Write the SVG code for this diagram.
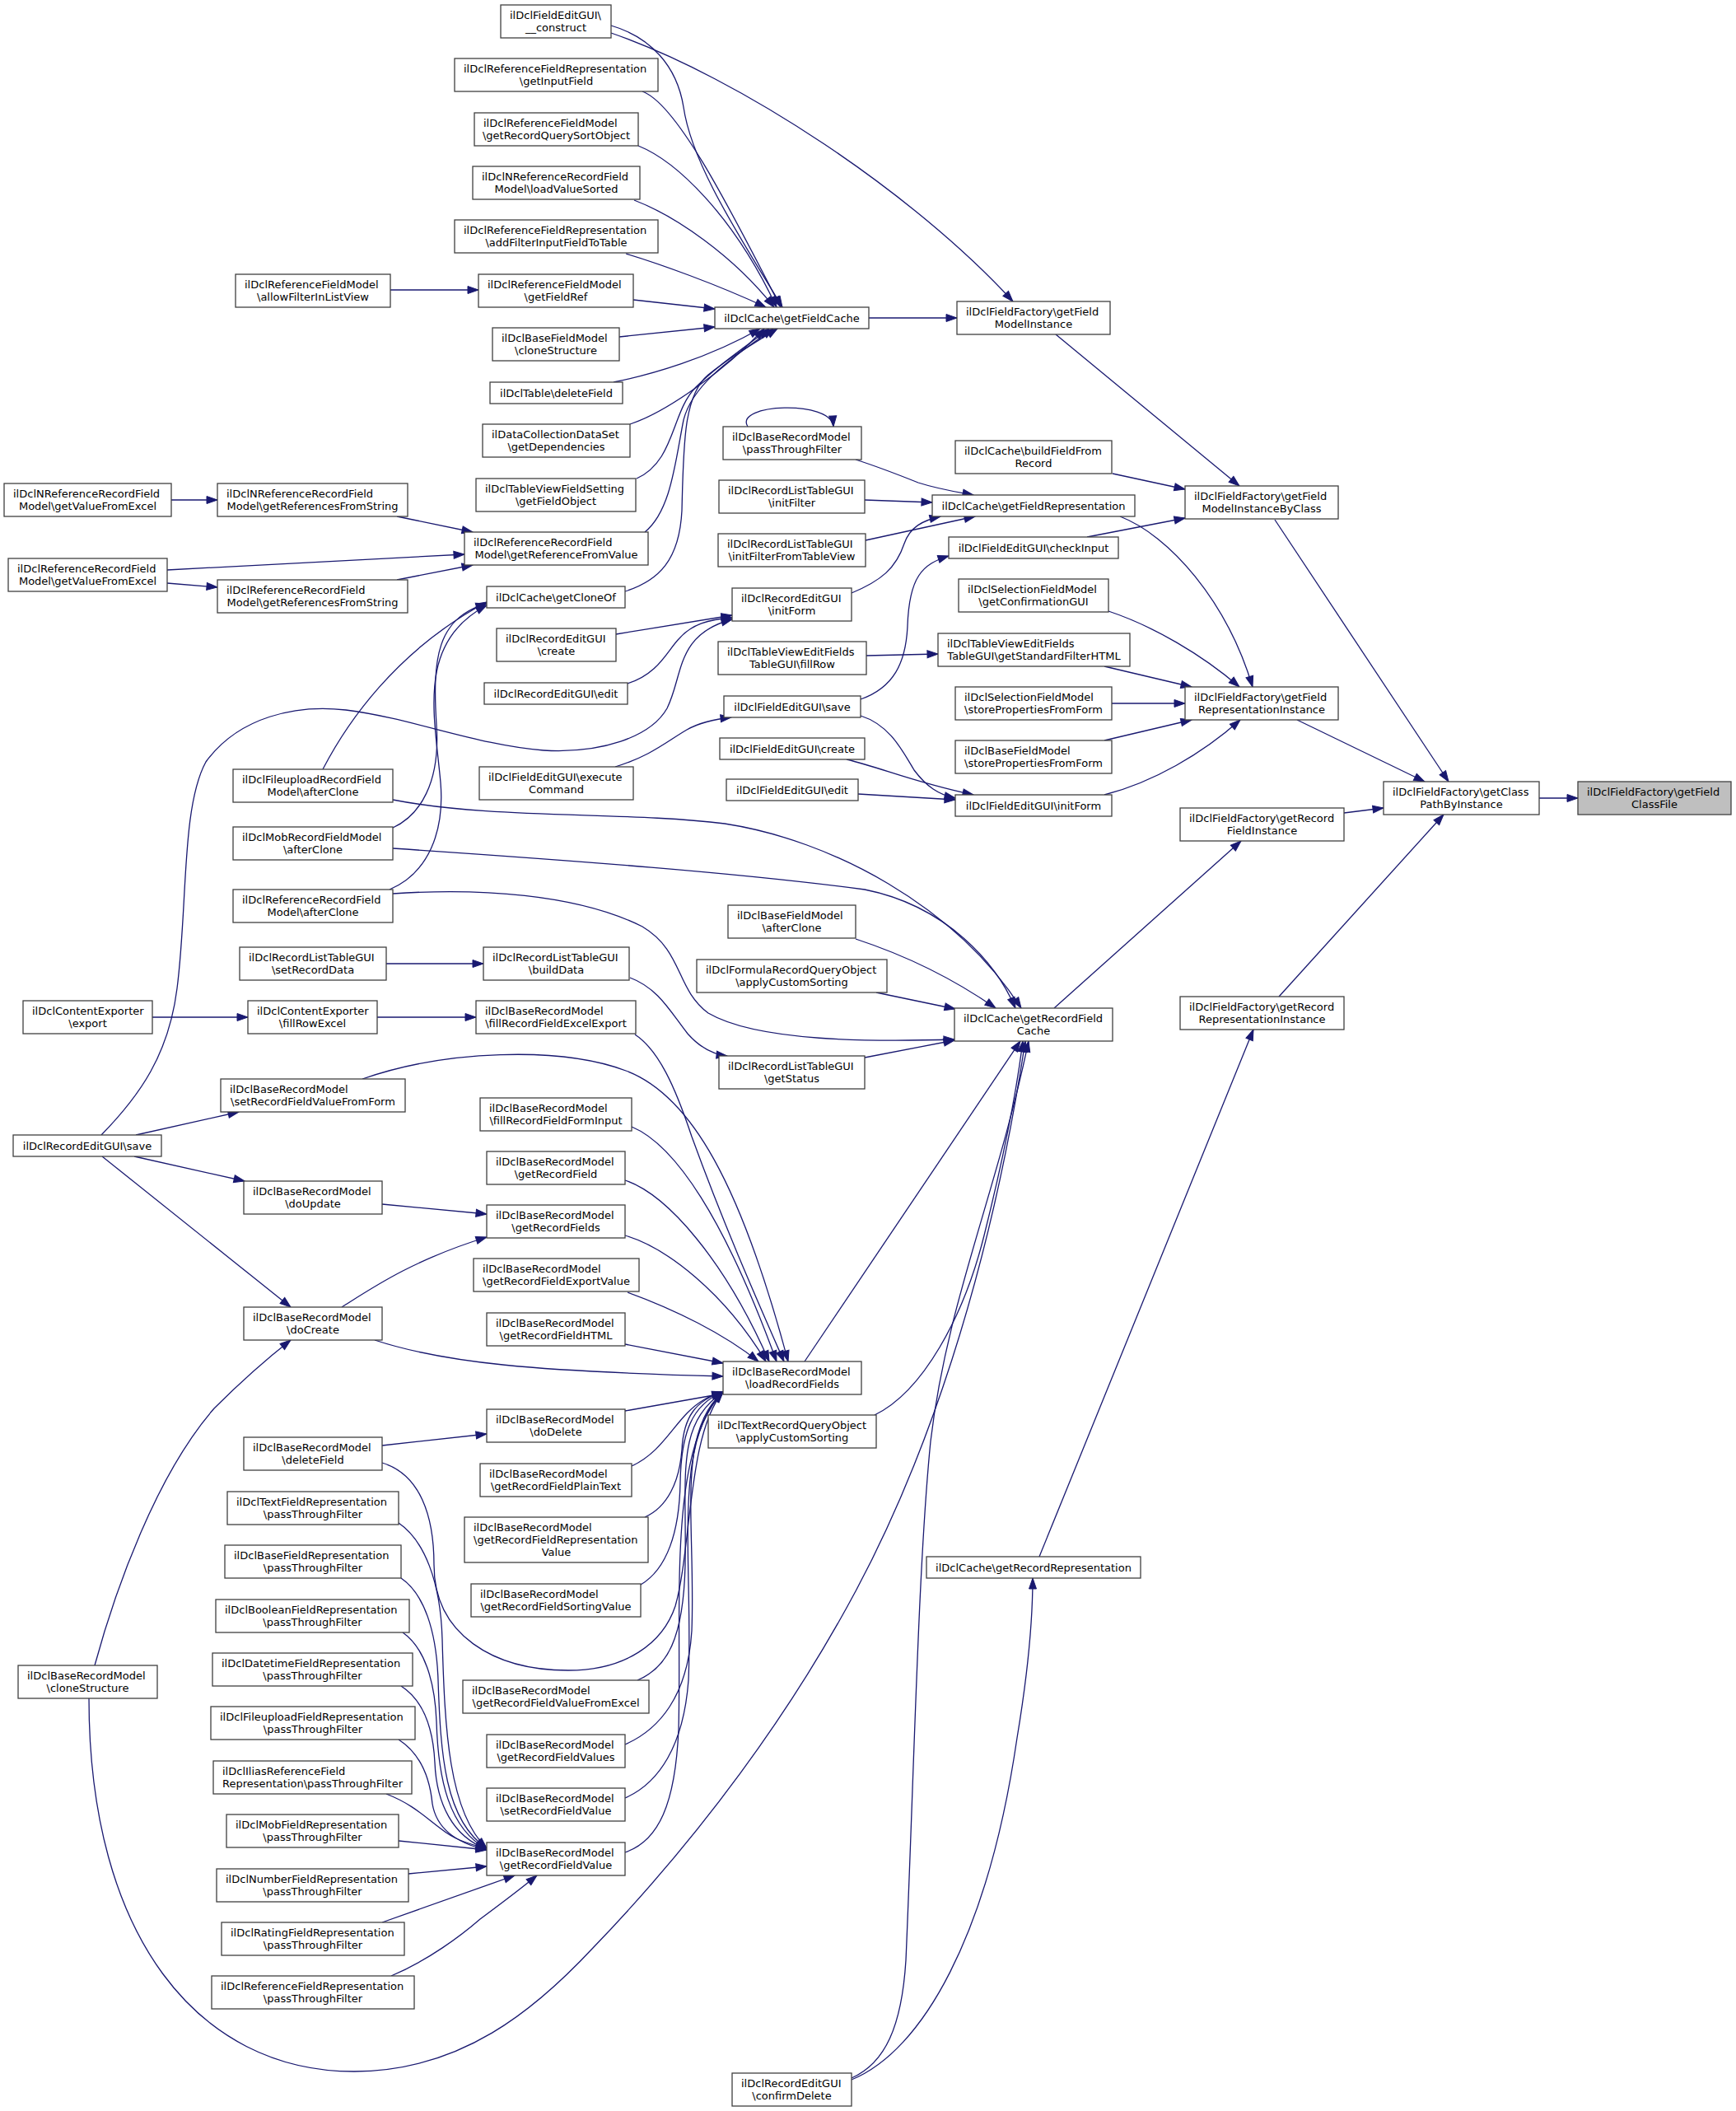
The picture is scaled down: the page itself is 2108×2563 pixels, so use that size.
<svg xmlns="http://www.w3.org/2000/svg" width="2108" height="2563" viewBox="0 0 2108 2563">
<style>
.n rect{fill:#fff;stroke:#404040;stroke-width:1.3}
.n.g rect{fill:#bfbfbf}
text{font-family:"DejaVu Sans","Liberation Sans",sans-serif;font-size:13px;fill:#000}
.l{text-anchor:start}
.c{text-anchor:middle}
#edges path{fill:none;stroke:#191970;stroke-width:1.3;marker-end:url(#a)}
</style>
<defs>
<marker id="a" markerUnits="userSpaceOnUse" markerWidth="14" markerHeight="10" refX="13" refY="5" orient="auto" overflow="visible">
<path d="M0,0.5 L13,5 L0,9.5 z" fill="#191970" stroke="#191970" stroke-width="1"/>
</marker>
</defs>
<rect x="0" y="0" width="2108" height="2563" fill="#fff"/>
<g id="edges">
<path d="M1869,969 L1916,969"/>
<path d="M1548,631 L1759,949"/>
<path d="M1575,874 L1730,949"/>
<path d="M1632,987 L1680,981"/>
<path d="M1553,1210 L1753,989"/>
<path d="M1282,406 L1505,590"/>
<path d="M1351,575 L1439,594"/>
<path d="M1320,652 L1439,629"/>
<path d="M1360,627 C1420,650 1490,730 1521,834"/>
<path d="M1346,742 C1400,760 1460,795 1505,834"/>
<path d="M1341,809 L1447,834"/>
<path d="M1350,854 L1439,854"/>
<path d="M1341,899 L1447,874"/>
<path d="M1341,965 C1400,950 1460,915 1506,874"/>
<path d="M1280,1224 L1507,1021"/>
<path d="M1262,1890 L1522,1250"/>
<path d="M1055,386 L1162,386"/>
<path d="M742,40 C900,95 1110,235 1230,366"/>
<path d="M742,31 C790,45 822,80 830,130 C840,200 900,290 950,373"/>
<path d="M780,111 C820,125 880,240 948,373"/>
<path d="M775,177 C820,195 890,260 943,373"/>
<path d="M770,243 C820,262 890,310 940,373"/>
<path d="M760,308 C800,320 870,345 930,373"/>
<path d="M769,364 L868,375"/>
<path d="M752,409 L868,397"/>
<path d="M745,464 C790,455 860,435 923,399"/>
<path d="M765,515 C810,500 880,450 928,399"/>
<path d="M773,581 C820,560 815,500 845,470 C870,445 900,425 934,399"/>
<path d="M783,646 C815,620 820,560 830,510 C840,470 880,440 939,399"/>
<path d="M759,718 C800,705 825,680 828,620 C830,540 830,480 860,455 C885,435 910,420 944,399"/>
<path d="M474,352 L581,352"/>
<path d="M482,627 L574,646"/>
<path d="M203,692 L564,673"/>
<path d="M482,704 L574,686"/>
<path d="M208,607 L264,607"/>
<path d="M203,708 L264,713"/>
<path d="M392,934 C420,880 480,790 591,731"/>
<path d="M477,1005 C510,990 535,950 530,880 C525,800 530,750 591,733"/>
<path d="M473,1080 C520,1060 540,1010 535,950 C528,870 505,780 591,735"/>
<path d="M748,770 L889,747"/>
<path d="M762,830 C800,818 810,790 825,775 C840,758 860,752 889,750"/>
<path d="M123,1378 C170,1330 205,1280 215,1200 C228,1100 220,980 250,925 C290,870 360,855 420,862 C500,872 580,905 660,911 C730,915 790,895 810,860 C830,820 820,770 889,752"/>
<path d="M1051,656 L1184,627"/>
<path d="M1034,720 C1070,705 1088,690 1098,660 C1105,640 1120,632 1142,627"/>
<path d="M1050,607 L1132,610"/>
<path d="M1039,558 C1070,568 1100,580 1115,586 C1140,594 1160,597 1182,601"/>
<path d="M908,518 C890,490 1010,485 1012,518"/>
<path d="M1045,849 C1085,835 1100,805 1102,760 C1104,700 1120,685 1152,675"/>
<path d="M1052,796 L1139,794"/>
<path d="M1045,869 C1080,880 1095,910 1110,935 C1125,955 1140,965 1160,969"/>
<path d="M1028,922 C1070,932 1110,950 1182,965"/>
<path d="M1042,964 L1160,971"/>
<path d="M747,931 C790,918 810,900 834,886 C850,877 868,873 888,871"/>
<path d="M477,971 C600,995 760,985 880,1000 C1010,1020 1160,1100 1240,1224"/>
<path d="M477,1030 C700,1045 900,1060 1050,1080 C1150,1100 1210,1170 1233,1224"/>
<path d="M477,1085 C580,1078 700,1085 780,1125 C830,1155 820,1200 860,1230 C920,1265 1060,1265 1159,1262"/>
<path d="M1039,1140 C1100,1160 1160,1190 1209,1224"/>
<path d="M1064,1205 L1160,1225"/>
<path d="M1050,1284 L1159,1263"/>
<path d="M977,1653 L1239,1264"/>
<path d="M1062,1718 C1120,1690 1170,1600 1195,1500 C1220,1400 1235,1320 1242,1264"/>
<path d="M1034,2523 C1075,2505 1095,2460 1100,2380 C1110,2150 1115,1900 1130,1750 C1150,1580 1210,1450 1249,1264"/>
<path d="M1034,2525 C1120,2490 1200,2350 1235,2110 C1250,2020 1254,1960 1254,1916"/>
<path d="M108,2062 C108,2350 240,2515 430,2515 C560,2515 650,2440 720,2365 C850,2230 960,2080 1040,1930 C1120,1780 1200,1560 1245,1264"/>
<path d="M469,1170 L587,1170"/>
<path d="M765,1187 C800,1200 815,1230 835,1255 C850,1272 865,1280 883,1282"/>
<path d="M185,1235 L301,1235"/>
<path d="M458,1235 L578,1235"/>
<path d="M771,1256 C800,1275 820,1320 840,1380 C880,1490 920,1580 952,1653"/>
<path d="M440,1310 C540,1275 680,1270 760,1300 C840,1330 900,1440 957,1653"/>
<path d="M767,1368 C820,1390 880,1480 943,1653"/>
<path d="M759,1433 C810,1450 880,1530 934,1653"/>
<path d="M759,1500 C810,1515 880,1570 930,1653"/>
<path d="M762,1569 C820,1590 880,1620 921,1653"/>
<path d="M759,1632 L878,1655"/>
<path d="M455,1627 C540,1655 650,1665 878,1671"/>
<path d="M759,1713 L878,1692"/>
<path d="M767,1780 C800,1765 815,1735 835,1715 C848,1702 860,1695 878,1690"/>
<path d="M783,1842 C810,1830 825,1800 828,1760 C830,1720 845,1700 878,1690"/>
<path d="M778,1924 C810,1905 825,1860 826,1800 C827,1740 840,1705 878,1690"/>
<path d="M774,2040 C810,2025 830,1990 832,1900 C834,1790 820,1730 878,1690"/>
<path d="M759,2118 C800,2100 835,2060 840,1980 C845,1850 820,1740 878,1690"/>
<path d="M759,2183 C800,2165 830,2120 836,2040 C842,1900 815,1750 878,1690"/>
<path d="M759,2249 C800,2235 820,2190 824,2100 C828,1950 810,1760 878,1690"/>
<path d="M464,1776 C510,1790 527,1840 527,1900 C527,1985 600,2028 690,2028 C760,2028 805,1995 820,1950 C840,1880 835,1740 878,1690"/>
<path d="M484,1849 C515,1870 535,1920 537,1990 C540,2100 545,2200 591,2244"/>
<path d="M487,1916 C515,1935 530,1980 532,2040 C535,2130 540,2210 591,2244"/>
<path d="M489,1982 C515,2000 528,2040 530,2090 C532,2160 545,2220 591,2245"/>
<path d="M487,2047 C515,2065 526,2100 528,2140 C530,2190 550,2230 591,2245"/>
<path d="M484,2112 C512,2130 522,2160 525,2190 C530,2220 555,2238 591,2246"/>
<path d="M469,2178 C500,2190 515,2205 535,2220 C550,2232 565,2238 591,2244"/>
<path d="M484,2235 L591,2246"/>
<path d="M496,2275 L591,2266"/>
<path d="M464,2334 C510,2318 560,2300 625,2277"/>
<path d="M475,2399 C520,2380 560,2350 583,2330 C610,2310 630,2295 652,2277"/>
<path d="M464,1462 L591,1474"/>
<path d="M415,1587 C450,1565 500,1530 591,1502"/>
<path d="M165,1378 L290,1350"/>
<path d="M163,1404 L297,1434"/>
<path d="M124,1404 L353,1587"/>
<path d="M115,2022 C140,1930 190,1790 260,1710 C300,1670 330,1645 353,1627"/>
<path d="M464,1755 L591,1741"/>
</g>
<g id="n_construct" class="n"><rect x="608" y="6" width="134" height="40"/><text x="619" y="23" class="l">ilDclFieldEditGUI\</text><text x="675" y="38" class="c">__construct</text></g>
<g id="n_getInputField" class="n"><rect x="552" y="71" width="247" height="40"/><text x="563" y="88" class="l">ilDclReferenceFieldRepresentation</text><text x="675.5" y="103" class="c">\getInputField</text></g>
<g id="n_getRecordQuerySortObject" class="n"><rect x="576" y="137" width="199" height="40"/><text x="587" y="154" class="l">ilDclReferenceFieldModel</text><text x="675.5" y="169" class="c">\getRecordQuerySortObject</text></g>
<g id="n_loadValueSorted" class="n"><rect x="574" y="202" width="203" height="40"/><text x="585" y="219" class="l">ilDclNReferenceRecordField</text><text x="675.5" y="234" class="c">Model\loadValueSorted</text></g>
<g id="n_addFilterInputFieldToTable" class="n"><rect x="552" y="267" width="247" height="40"/><text x="563" y="284" class="l">ilDclReferenceFieldRepresentation</text><text x="675.5" y="299" class="c">\addFilterInputFieldToTable</text></g>
<g id="n_getFieldRef" class="n"><rect x="581" y="333" width="188" height="40"/><text x="592" y="350" class="l">ilDclReferenceFieldModel</text><text x="675" y="365" class="c">\getFieldRef</text></g>
<g id="n_allowFilterInListView" class="n"><rect x="286" y="333" width="188" height="40"/><text x="297" y="350" class="l">ilDclReferenceFieldModel</text><text x="380" y="365" class="c">\allowFilterInListView</text></g>
<g id="n_bfm_cloneStructure" class="n"><rect x="598" y="398" width="154" height="40"/><text x="609" y="415" class="l">ilDclBaseFieldModel</text><text x="675" y="430" class="c">\cloneStructure</text></g>
<g id="n_table_deleteField" class="n"><rect x="595" y="464" width="161" height="26"/><text x="675.5" y="481.5" class="c">ilDclTable\deleteField</text></g>
<g id="n_getDependencies" class="n"><rect x="586" y="515" width="179" height="40"/><text x="597" y="532" class="l">ilDataCollectionDataSet</text><text x="675.5" y="547" class="c">\getDependencies</text></g>
<g id="n_getFieldObject" class="n"><rect x="578" y="581" width="194" height="40"/><text x="589" y="598" class="l">ilDclTableViewFieldSetting</text><text x="675" y="613" class="c">\getFieldObject</text></g>
<g id="n_nref_getValueFromExcel" class="n"><rect x="5" y="587" width="203" height="40"/><text x="16" y="604" class="l">ilDclNReferenceRecordField</text><text x="106.5" y="619" class="c">Model\getValueFromExcel</text></g>
<g id="n_nref_getReferencesFromString" class="n"><rect x="264" y="587" width="231" height="40"/><text x="275" y="604" class="l">ilDclNReferenceRecordField</text><text x="379.5" y="619" class="c">Model\getReferencesFromString</text></g>
<g id="n_getReferenceFromValue" class="n"><rect x="564" y="646" width="223" height="40"/><text x="575" y="663" class="l">ilDclReferenceRecordField</text><text x="675.5" y="678" class="c">Model\getReferenceFromValue</text></g>
<g id="n_ref_getValueFromExcel" class="n"><rect x="10" y="678" width="193" height="40"/><text x="21" y="695" class="l">ilDclReferenceRecordField</text><text x="106.5" y="710" class="c">Model\getValueFromExcel</text></g>
<g id="n_ref_getReferencesFromString" class="n"><rect x="264" y="704" width="231" height="40"/><text x="275" y="721" class="l">ilDclReferenceRecordField</text><text x="379.5" y="736" class="c">Model\getReferencesFromString</text></g>
<g id="n_getCloneOf" class="n"><rect x="591" y="712" width="168" height="26"/><text x="675" y="729.5" class="c">ilDclCache\getCloneOf</text></g>
<g id="n_reg_create" class="n"><rect x="603" y="763" width="145" height="40"/><text x="614" y="780" class="l">ilDclRecordEditGUI</text><text x="675.5" y="795" class="c">\create</text></g>
<g id="n_reg_edit" class="n"><rect x="588" y="829" width="174" height="26"/><text x="675" y="846.5" class="c">ilDclRecordEditGUI\edit</text></g>
<g id="n_executeCommand" class="n"><rect x="582" y="931" width="187" height="40"/><text x="593" y="948" class="l">ilDclFieldEditGUI\execute</text><text x="675.5" y="963" class="c">Command</text></g>
<g id="n_fileupload_afterClone" class="n"><rect x="283" y="934" width="194" height="40"/><text x="294" y="951" class="l">ilDclFileuploadRecordField</text><text x="380" y="966" class="c">Model\afterClone</text></g>
<g id="n_mob_afterClone" class="n"><rect x="283" y="1004" width="194" height="40"/><text x="294" y="1021" class="l">ilDclMobRecordFieldModel</text><text x="380" y="1036" class="c">\afterClone</text></g>
<g id="n_refrec_afterClone" class="n"><rect x="283" y="1080" width="194" height="40"/><text x="294" y="1097" class="l">ilDclReferenceRecordField</text><text x="380" y="1112" class="c">Model\afterClone</text></g>
<g id="n_setRecordData" class="n"><rect x="291" y="1150" width="178" height="40"/><text x="302" y="1167" class="l">ilDclRecordListTableGUI</text><text x="380" y="1182" class="c">\setRecordData</text></g>
<g id="n_buildData" class="n"><rect x="587" y="1150" width="177" height="40"/><text x="598" y="1167" class="l">ilDclRecordListTableGUI</text><text x="675.5" y="1182" class="c">\buildData</text></g>
<g id="n_export" class="n"><rect x="28" y="1215" width="157" height="40"/><text x="39" y="1232" class="l">ilDclContentExporter</text><text x="106.5" y="1247" class="c">\export</text></g>
<g id="n_fillRowExcel" class="n"><rect x="301" y="1215" width="157" height="40"/><text x="312" y="1232" class="l">ilDclContentExporter</text><text x="379.5" y="1247" class="c">\fillRowExcel</text></g>
<g id="n_fillRecordFieldExcelExport" class="n"><rect x="578" y="1215" width="194" height="40"/><text x="589" y="1232" class="l">ilDclBaseRecordModel</text><text x="675" y="1247" class="c">\fillRecordFieldExcelExport</text></g>
<g id="n_passThroughFilter" class="n"><rect x="878" y="518" width="168" height="40"/><text x="889" y="535" class="l">ilDclBaseRecordModel</text><text x="962" y="550" class="c">\passThroughFilter</text></g>
<g id="n_initFilter" class="n"><rect x="873" y="583" width="177" height="40"/><text x="884" y="600" class="l">ilDclRecordListTableGUI</text><text x="961.5" y="615" class="c">\initFilter</text></g>
<g id="n_initFilterFromTableView" class="n"><rect x="872" y="648" width="179" height="40"/><text x="883" y="665" class="l">ilDclRecordListTableGUI</text><text x="961.5" y="680" class="c">\initFilterFromTableView</text></g>
<g id="n_reg_initForm" class="n"><rect x="889" y="714" width="145" height="40"/><text x="900" y="731" class="l">ilDclRecordEditGUI</text><text x="961.5" y="746" class="c">\initForm</text></g>
<g id="n_fillRow" class="n"><rect x="872" y="779" width="180" height="40"/><text x="883" y="796" class="l">ilDclTableViewEditFields</text><text x="962" y="811" class="c">TableGUI\fillRow</text></g>
<g id="n_feg_save" class="n"><rect x="879" y="845" width="166" height="26"/><text x="962" y="862.5" class="c">ilDclFieldEditGUI\save</text></g>
<g id="n_feg_create" class="n"><rect x="874" y="896" width="176" height="26"/><text x="962" y="913.5" class="c">ilDclFieldEditGUI\create</text></g>
<g id="n_feg_edit" class="n"><rect x="882" y="946" width="160" height="26"/><text x="962" y="963.5" class="c">ilDclFieldEditGUI\edit</text></g>
<g id="n_getFieldCache" class="n"><rect x="868" y="373" width="187" height="26"/><text x="961.5" y="390.5" class="c">ilDclCache\getFieldCache</text></g>
<g id="n_getFieldModelInstance" class="n"><rect x="1162" y="366" width="186" height="40"/><text x="1173" y="383" class="l">ilDclFieldFactory\getField</text><text x="1255" y="398" class="c">ModelInstance</text></g>
<g id="n_buildFieldFromRecord" class="n"><rect x="1160" y="535" width="190" height="40"/><text x="1171" y="552" class="l">ilDclCache\buildFieldFrom</text><text x="1255" y="567" class="c">Record</text></g>
<g id="n_getFieldRepresentation" class="n"><rect x="1132" y="601" width="246" height="26"/><text x="1255" y="618.5" class="c">ilDclCache\getFieldRepresentation</text></g>
<g id="n_checkInput" class="n"><rect x="1152" y="652" width="206" height="26"/><text x="1255" y="669.5" class="c">ilDclFieldEditGUI\checkInput</text></g>
<g id="n_getConfirmationGUI" class="n"><rect x="1164" y="703" width="182" height="40"/><text x="1175" y="720" class="l">ilDclSelectionFieldModel</text><text x="1255" y="735" class="c">\getConfirmationGUI</text></g>
<g id="n_getStandardFilterHTML" class="n"><rect x="1139" y="769" width="233" height="40"/><text x="1150" y="786" class="l">ilDclTableViewEditFields</text><text x="1255.5" y="801" class="c">TableGUI\getStandardFilterHTML</text></g>
<g id="n_sel_storeProps" class="n"><rect x="1160" y="834" width="190" height="40"/><text x="1171" y="851" class="l">ilDclSelectionFieldModel</text><text x="1255" y="866" class="c">\storePropertiesFromForm</text></g>
<g id="n_bfm_storeProps" class="n"><rect x="1160" y="899" width="190" height="40"/><text x="1171" y="916" class="l">ilDclBaseFieldModel</text><text x="1255" y="931" class="c">\storePropertiesFromForm</text></g>
<g id="n_feg_initForm" class="n"><rect x="1160" y="965" width="190" height="26"/><text x="1255" y="982.5" class="c">ilDclFieldEditGUI\initForm</text></g>
<g id="n_getFieldModelInstanceByClass" class="n"><rect x="1439" y="590" width="186" height="40"/><text x="1450" y="607" class="l">ilDclFieldFactory\getField</text><text x="1532" y="622" class="c">ModelInstanceByClass</text></g>
<g id="n_getFieldRepresentationInstance" class="n"><rect x="1439" y="834" width="186" height="40"/><text x="1450" y="851" class="l">ilDclFieldFactory\getField</text><text x="1532" y="866" class="c">RepresentationInstance</text></g>
<g id="n_getClassPathByInstance" class="n"><rect x="1680" y="949" width="189" height="40"/><text x="1691" y="966" class="l">ilDclFieldFactory\getClass</text><text x="1774.5" y="981" class="c">PathByInstance</text></g>
<g id="n_getFieldClassFile" class="n g"><rect x="1916" y="949" width="186" height="40"/><text x="1927" y="966" class="l">ilDclFieldFactory\getField</text><text x="2009" y="981" class="c">ClassFile</text></g>
<g id="n_getRecordFieldInstance" class="n"><rect x="1433" y="981" width="199" height="40"/><text x="1444" y="998" class="l">ilDclFieldFactory\getRecord</text><text x="1532.5" y="1013" class="c">FieldInstance</text></g>
<g id="n_getRecordRepresentationInstance" class="n"><rect x="1433" y="1210" width="199" height="40"/><text x="1444" y="1227" class="l">ilDclFieldFactory\getRecord</text><text x="1532.5" y="1242" class="c">RepresentationInstance</text></g>
<g id="n_bfm_afterClone" class="n"><rect x="884" y="1099" width="155" height="40"/><text x="895" y="1116" class="l">ilDclBaseFieldModel</text><text x="961.5" y="1131" class="c">\afterClone</text></g>
<g id="n_formula_applyCustomSorting" class="n"><rect x="846" y="1165" width="231" height="40"/><text x="857" y="1182" class="l">ilDclFormulaRecordQueryObject</text><text x="961.5" y="1197" class="c">\applyCustomSorting</text></g>
<g id="n_getRecordFieldCache" class="n"><rect x="1159" y="1224" width="192" height="40"/><text x="1170" y="1241" class="l">ilDclCache\getRecordField</text><text x="1255" y="1256" class="c">Cache</text></g>
<g id="n_getStatus" class="n"><rect x="873" y="1282" width="177" height="40"/><text x="884" y="1299" class="l">ilDclRecordListTableGUI</text><text x="961.5" y="1314" class="c">\getStatus</text></g>
<g id="n_setRecordFieldValueFromForm" class="n"><rect x="268" y="1310" width="224" height="40"/><text x="279" y="1327" class="l">ilDclBaseRecordModel</text><text x="380" y="1342" class="c">\setRecordFieldValueFromForm</text></g>
<g id="n_reg_save" class="n"><rect x="16" y="1378" width="180" height="26"/><text x="106" y="1395.5" class="c">ilDclRecordEditGUI\save</text></g>
<g id="n_fillRecordFieldFormInput" class="n"><rect x="583" y="1333" width="184" height="40"/><text x="594" y="1350" class="l">ilDclBaseRecordModel</text><text x="675" y="1365" class="c">\fillRecordFieldFormInput</text></g>
<g id="n_getRecordField" class="n"><rect x="591" y="1398" width="168" height="40"/><text x="602" y="1415" class="l">ilDclBaseRecordModel</text><text x="675" y="1430" class="c">\getRecordField</text></g>
<g id="n_doUpdate" class="n"><rect x="296" y="1434" width="168" height="40"/><text x="307" y="1451" class="l">ilDclBaseRecordModel</text><text x="380" y="1466" class="c">\doUpdate</text></g>
<g id="n_getRecordFields" class="n"><rect x="591" y="1463" width="168" height="40"/><text x="602" y="1480" class="l">ilDclBaseRecordModel</text><text x="675" y="1495" class="c">\getRecordFields</text></g>
<g id="n_getRecordFieldExportValue" class="n"><rect x="575" y="1528" width="201" height="40"/><text x="586" y="1545" class="l">ilDclBaseRecordModel</text><text x="675.5" y="1560" class="c">\getRecordFieldExportValue</text></g>
<g id="n_doCreate" class="n"><rect x="296" y="1587" width="168" height="40"/><text x="307" y="1604" class="l">ilDclBaseRecordModel</text><text x="380" y="1619" class="c">\doCreate</text></g>
<g id="n_getRecordFieldHTML" class="n"><rect x="591" y="1594" width="168" height="40"/><text x="602" y="1611" class="l">ilDclBaseRecordModel</text><text x="675" y="1626" class="c">\getRecordFieldHTML</text></g>
<g id="n_loadRecordFields" class="n"><rect x="878" y="1653" width="168" height="40"/><text x="889" y="1670" class="l">ilDclBaseRecordModel</text><text x="962" y="1685" class="c">\loadRecordFields</text></g>
<g id="n_text_applyCustomSorting" class="n"><rect x="860" y="1718" width="204" height="40"/><text x="871" y="1735" class="l">ilDclTextRecordQueryObject</text><text x="962" y="1750" class="c">\applyCustomSorting</text></g>
<g id="n_doDelete" class="n"><rect x="591" y="1711" width="168" height="40"/><text x="602" y="1728" class="l">ilDclBaseRecordModel</text><text x="675" y="1743" class="c">\doDelete</text></g>
<g id="n_brm_deleteField" class="n"><rect x="296" y="1745" width="168" height="40"/><text x="307" y="1762" class="l">ilDclBaseRecordModel</text><text x="380" y="1777" class="c">\deleteField</text></g>
<g id="n_getRecordFieldPlainText" class="n"><rect x="583" y="1777" width="184" height="40"/><text x="594" y="1794" class="l">ilDclBaseRecordModel</text><text x="675" y="1809" class="c">\getRecordFieldPlainText</text></g>
<g id="n_textRep" class="n"><rect x="276" y="1811" width="208" height="40"/><text x="287" y="1828" class="l">ilDclTextFieldRepresentation</text><text x="380" y="1843" class="c">\passThroughFilter</text></g>
<g id="n_getRecordFieldRepresentationValue" class="n"><rect x="564" y="1842" width="223" height="55"/><text x="575" y="1859" class="l">ilDclBaseRecordModel</text><text x="575" y="1874" class="l">\getRecordFieldRepresentation</text><text x="675.5" y="1889" class="c">Value</text></g>
<g id="n_baseRep" class="n"><rect x="273" y="1876" width="214" height="40"/><text x="284" y="1893" class="l">ilDclBaseFieldRepresentation</text><text x="380" y="1908" class="c">\passThroughFilter</text></g>
<g id="n_getRecordFieldSortingValue" class="n"><rect x="572" y="1923" width="206" height="40"/><text x="583" y="1940" class="l">ilDclBaseRecordModel</text><text x="675" y="1955" class="c">\getRecordFieldSortingValue</text></g>
<g id="n_boolRep" class="n"><rect x="262" y="1942" width="235" height="40"/><text x="273" y="1959" class="l">ilDclBooleanFieldRepresentation</text><text x="379.5" y="1974" class="c">\passThroughFilter</text></g>
<g id="n_brm_cloneStructure" class="n"><rect x="22" y="2022" width="169" height="40"/><text x="33" y="2039" class="l">ilDclBaseRecordModel</text><text x="106.5" y="2054" class="c">\cloneStructure</text></g>
<g id="n_dateRep" class="n"><rect x="258" y="2007" width="243" height="40"/><text x="269" y="2024" class="l">ilDclDatetimeFieldRepresentation</text><text x="379.5" y="2039" class="c">\passThroughFilter</text></g>
<g id="n_getRecordFieldValueFromExcel" class="n"><rect x="562" y="2040" width="226" height="40"/><text x="573" y="2057" class="l">ilDclBaseRecordModel</text><text x="675" y="2072" class="c">\getRecordFieldValueFromExcel</text></g>
<g id="n_fileRep" class="n"><rect x="256" y="2072" width="248" height="40"/><text x="267" y="2089" class="l">ilDclFileuploadFieldRepresentation</text><text x="380" y="2104" class="c">\passThroughFilter</text></g>
<g id="n_getRecordFieldValues" class="n"><rect x="591" y="2106" width="168" height="40"/><text x="602" y="2123" class="l">ilDclBaseRecordModel</text><text x="675" y="2138" class="c">\getRecordFieldValues</text></g>
<g id="n_iliasRep" class="n"><rect x="259" y="2138" width="241" height="40"/><text x="270" y="2155" class="l">ilDclIliasReferenceField</text><text x="379.5" y="2170" class="c">Representation\passThroughFilter</text></g>
<g id="n_setRecordFieldValue" class="n"><rect x="591" y="2171" width="168" height="40"/><text x="602" y="2188" class="l">ilDclBaseRecordModel</text><text x="675" y="2203" class="c">\setRecordFieldValue</text></g>
<g id="n_mobRep" class="n"><rect x="275" y="2203" width="209" height="40"/><text x="286" y="2220" class="l">ilDclMobFieldRepresentation</text><text x="379.5" y="2235" class="c">\passThroughFilter</text></g>
<g id="n_getRecordFieldValue" class="n"><rect x="591" y="2237" width="168" height="40"/><text x="602" y="2254" class="l">ilDclBaseRecordModel</text><text x="675" y="2269" class="c">\getRecordFieldValue</text></g>
<g id="n_numRep" class="n"><rect x="263" y="2269" width="233" height="40"/><text x="274" y="2286" class="l">ilDclNumberFieldRepresentation</text><text x="379.5" y="2301" class="c">\passThroughFilter</text></g>
<g id="n_ratingRep" class="n"><rect x="269" y="2334" width="222" height="40"/><text x="280" y="2351" class="l">ilDclRatingFieldRepresentation</text><text x="380" y="2366" class="c">\passThroughFilter</text></g>
<g id="n_refRep" class="n"><rect x="257" y="2399" width="246" height="40"/><text x="268" y="2416" class="l">ilDclReferenceFieldRepresentation</text><text x="380" y="2431" class="c">\passThroughFilter</text></g>
<g id="n_getRecordRepresentation" class="n"><rect x="1125" y="1890" width="260" height="26"/><text x="1255" y="1907.5" class="c">ilDclCache\getRecordRepresentation</text></g>
<g id="n_confirmDelete" class="n"><rect x="889" y="2517" width="145" height="40"/><text x="900" y="2534" class="l">ilDclRecordEditGUI</text><text x="961.5" y="2549" class="c">\confirmDelete</text></g>
</svg>
